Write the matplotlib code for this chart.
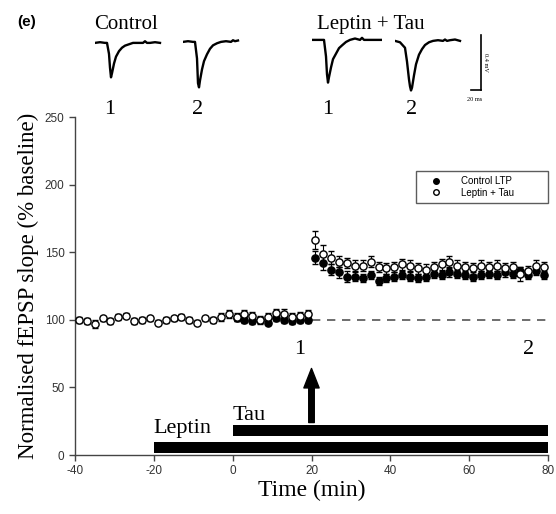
import numpy as np
import matplotlib
matplotlib.use("Agg")
import matplotlib.pyplot as plt
from matplotlib.lines import Line2D

# ---- time course data (min, % baseline) ----
lt_time = [-39, -37, -35, -33, -31, -29, -27, -25, -23, -21, -19, -17, -15, -13, -11,
           -9, -7, -5, -3, -1, 1, 3, 5, 7, 9, 11, 13, 15, 17, 19,
           21, 23, 25, 27, 29, 31, 33, 35, 37, 39, 41, 43, 45, 47, 49,
           51, 53, 55, 57, 59, 61, 63, 65, 67, 69, 71, 73, 75, 77, 79]
lt_slope = [100, 99, 97, 101, 99, 102, 103, 99, 100, 101, 98, 100, 101, 102, 100,
            98, 101, 100, 102, 104, 102, 104, 103, 100, 102, 105, 104, 102, 103, 104,
            159, 149, 146, 143, 142, 140, 140, 143, 139, 138, 139, 141, 140, 138, 137,
            139, 141, 143, 140, 139, 138, 140, 139, 140, 138, 139, 134, 136, 140, 139]
lt_sem = [2, 2, 3, 2, 2, 2, 2, 2, 2, 2, 2, 2, 2, 2, 2,
          2, 2, 2, 3, 3, 3, 3, 3, 3, 3, 3, 4, 3, 3, 3,
          7, 6, 5, 4, 4, 4, 4, 4, 4, 4, 4, 4, 4, 4, 4,
          4, 4, 4, 4, 4, 4, 4, 4, 4, 4, 4, 5, 4, 4, 4]

ctrl_time = [1, 3, 5, 7, 9, 11, 13, 15, 17, 19,
             21, 23, 25, 27, 29, 31, 33, 35, 37, 39, 41, 43, 45, 47, 49,
             51, 53, 55, 57, 59, 61, 63, 65, 67, 69, 71, 73, 75, 77, 79]
ctrl_slope = [101, 100, 99, 100, 98, 101, 100, 99, 100, 100,
              146, 142, 137, 135, 132, 132, 131, 133, 129, 131, 132, 133, 132, 131, 132,
              134, 133, 135, 134, 133, 132, 133, 134, 133, 135, 134, 136, 133, 136, 133]
ctrl_sem = [2, 2, 2, 2, 2, 2, 2, 2, 2, 2,
            5, 5, 4, 4, 4, 3, 3, 3, 3, 3, 3, 3, 3, 3, 3,
            3, 3, 3, 3, 3, 3, 3, 3, 3, 3, 3, 3, 3, 3, 3]

# treatment bars
drug_names = ["Leptin", "Tau"]
drug_start = [-20, 0]
drug_end = [80, 80]

# ---- example fEPSP traces (ms, mV) ----
trace_t = [0, 10, 20, 24, 28, 30, 32, 34, 38, 42, 48, 54, 60, 68, 76, 86, 96, 100, 104, 110, 120, 130, 140]
trace_ctrl1 = [0, 0.005, 0, 0, -0.08, -0.18, -0.25, -0.22, -0.15, -0.10, -0.06, -0.035, -0.02, -0.01,
               0, 0, 0, 0.012, 0, 0, 0.005, 0, np.nan]
trace_ctrl2 = [0, 0.005, 0, 0, -0.12, -0.30, -0.33, -0.28, -0.20, -0.14, -0.09, -0.05, -0.025, -0.01,
               0, 0.005, 0, 0.012, 0.005, 0.01, np.nan, np.nan, np.nan]
trace_lt1 = [0, 0, 0, 0, -0.12, -0.25, -0.31, -0.27, -0.20, -0.14, -0.10, -0.06, -0.04, -0.015,
             0, 0.01, 0, 0.015, 0, 0, 0, 0, 0]
trace_lt2 = [0, -0.01, -0.05, -0.15, -0.28, -0.33, -0.36, -0.34, -0.25, -0.17, -0.10, -0.06, -0.03, -0.01,
             0, 0.005, 0, 0.01, 0, 0.005, 0.01, 0, np.nan]

serif = ["Liberation Serif", "DejaVu Serif"]
sans = ["Liberation Sans", "DejaVu Sans"]
plt.rcParams["font.family"] = sans
plt.rcParams["axes.unicode_minus"] = False

W, H = 556, 514
fig = plt.figure(figsize=(W / 100, H / 100), dpi=100)
ax = fig.add_axes([75 / W, 1 - 455 / H, 473 / W, 338 / H])

ax.errorbar(ctrl_time, ctrl_slope, yerr=ctrl_sem, fmt="o", color="black", ms=5.2,
            mfc="black", mec="black", mew=1, ecolor="black", elinewidth=0.8,
            capsize=2.5, clip_on=False, zorder=3)
ax.errorbar(lt_time, lt_slope, yerr=lt_sem, fmt="o", color="black", ms=5.2,
            mfc="white", mec="black", mew=1, ecolor="black", elinewidth=0.8,
            capsize=2.5, clip_on=False, zorder=4)

ax.plot([20, 80], [100, 100], ls=(0, (5, 4)), color="#555555", lw=1.2, zorder=1)

# treatment bars
for i, (s, e) in enumerate(zip(drug_start, drug_end)):
    ax.barh(5.5 + 12.5 * i, e - s, left=s, height=8, color="black", zorder=2)
ax.text(drug_start[0], 16, drug_names[0], family=serif, fontsize=16, ha="left", va="baseline")
ax.text(drug_start[1], 26, drug_names[1], family=serif, fontsize=16, ha="left", va="baseline")

# HFS arrow
ax.annotate("", xy=(20, 64), xytext=(20, 24),
            arrowprops=dict(facecolor="black", edgecolor="black", width=4, headwidth=11, headlength=14))

ax.text(17, 78, "1", family=serif, fontsize=16, ha="center", va="center")
ax.text(75, 78, "2", family=serif, fontsize=16, ha="center", va="center")

ax.set_xlim(-40, 80)
ax.set_ylim(0, 250)
ax.set_xticks(range(-40, 81, 20))
ax.set_yticks(range(0, 251, 50))
for sp in ["top", "right"]:
    ax.spines[sp].set_visible(False)
for sp in ["left", "bottom"]:
    ax.spines[sp].set_color("#444444")
    ax.spines[sp].set_linewidth(1)
ax.tick_params(direction="out", length=4, width=1, color="#444444", labelsize=8.5, labelcolor="#333333")
ax.set_xlabel("Time (min)", family=serif, fontsize=17, labelpad=2)
ax.set_ylabel("Normalised fEPSP slope (% baseline)", family=serif, fontsize=16.5, labelpad=4)

handles = [Line2D([], [], ls="none", marker="o", ms=4, mfc="black", mec="black"),
           Line2D([], [], ls="none", marker="o", ms=4, mfc="white", mec="black", mew=1)]
leg = ax.legend(handles, ["Control LTP", "Leptin + Tau"], loc="upper left",
                bbox_to_anchor=(341 / 473, 0.84, 132 / 473, 0.0),
                mode="expand", borderaxespad=0, fontsize=7, frameon=True, fancybox=False,
                handlelength=3.2, handletextpad=0.9, borderpad=0.5, labelspacing=0.2)
leg.get_frame().set_edgecolor("#333333")
leg.get_frame().set_linewidth(1)

# ---- traces on top ----
def trace_ax(left, top):
    a = fig.add_axes([left / W, 1 - (top + 62) / H, 70 / W, 62 / H])
    a.set_xlim(0, 140)
    a.set_ylim(-0.4, 0.05)
    a.axis("off")
    return a

for left, top, tr in [(95, 36, trace_ctrl1), (183, 35, trace_ctrl2),
                      (312, 33, trace_lt1), (395, 34, trace_lt2)]:
    a = trace_ax(left, top)
    a.plot(trace_t, tr, color="black", lw=1.7)
    if tr is trace_lt2:
        a.plot([172, 172], [-0.36, 0.04], color="black", lw=1.2, clip_on=False)
        a.plot([152, 172], [-0.36, -0.36], color="black", lw=1.2, clip_on=False)
        a.text(180, -0.16, "0.4 mV", rotation=-90, fontsize=4.5, family=serif,
               ha="center", va="center", clip_on=False)
        a.text(160, -0.41, "20 ms", fontsize=4.5, family=serif, ha="center", va="top", clip_on=False)

fig.text(126 / W, 1 - 24 / H, "Control", family=serif, fontsize=15, ha="center", va="center")
fig.text(371 / W, 1 - 24 / H, "Leptin + Tau", family=serif, fontsize=15, ha="center", va="center")
for x, lab in [(110, "1"), (198, "2"), (328, "1"), (412, "2")]:
    fig.text(x / W, 1 - 110 / H, lab, family=serif, fontsize=16, ha="center", va="center")
fig.text(27 / W, 1 - 22 / H, "(e)", family=sans, fontsize=11, fontweight="bold", ha="center", va="center")

fig.savefig("out.png", dpi=100)
